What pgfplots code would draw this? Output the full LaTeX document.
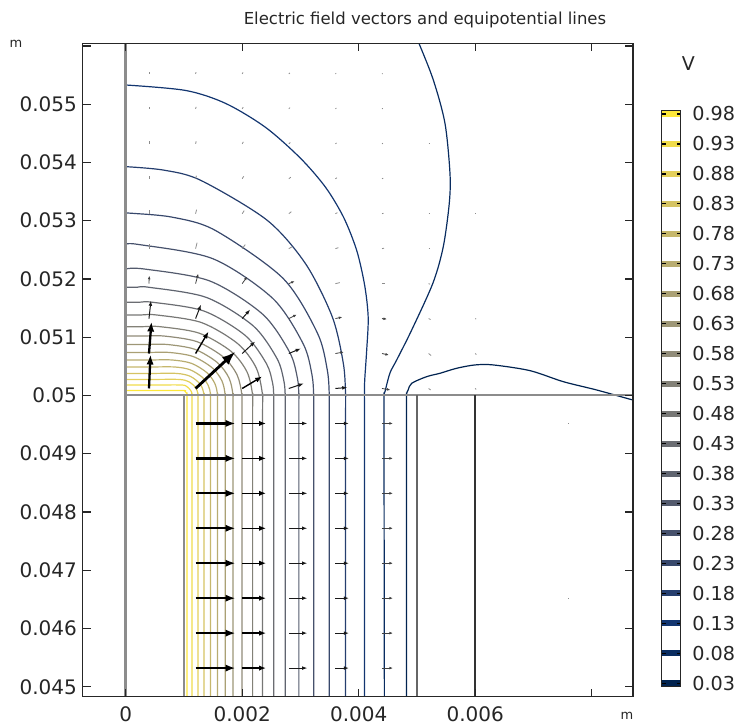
\documentclass[border=0pt]{standalone}
\usepackage{fontspec}
\setmainfont{DejaVu Sans}
\usepackage{pgfplots}
\pgfplotsset{compat=1.18}
\usetikzlibrary{arrows.meta}
\pgfplotsset{colormap={cividis}{rgb255=(0,34,78) rgb255=(18,53,112) rgb255=(59,73,108) rgb255=(87,93,109) rgb255=(112,113,115) rgb255=(138,135,121) rgb255=(166,157,117) rgb255=(196,181,108) rgb255=(228,207,91) rgb255=(254,232,56)}}
\pgfplotsset{
 cl/.style={smooth, mark=none, line width=0.6pt, color of colormap={#1 of cividis}},
 cb/.style={mark=none, line width=3pt, color of colormap={#1 of cividis}},
 geo/.style={mark=none, line width=1pt, color=black!45},
}
\begin{document}
\begin{tikzpicture}
\useasboundingbox (0,0) rectangle (368pt,363pt);
\begin{axis}[at={(41.35pt,14.65pt)}, anchor=south west, scale only axis,
 width=275.15pt, height=326.7pt,
 xmin=-0.738, xmax=8.709, ymin=44.829, ymax=56.046,
 axis on top, axis line style={line width=0.6pt, black!85},
 xtick={0,2,4,6,8}, xticklabels={0,0.002,0.004,0.006,{}},
 ytick={45,46,47,48,49,50,51,52,53,54,55,56},
 yticklabels={0.045,0.046,0.047,0.048,0.049,0.05,0.051,0.052,0.053,0.054,0.055,{}},
 tick align=inside, major tick length=4pt, tick style={line width=0.6pt, black!85},
 ticklabel style={font=\fontsize{10}{12}\selectfont, text=black!85},
 xticklabel style={yshift=-1.6pt}, yticklabel style={xshift=0.6pt},
]
% equipotential lines
\addplot[cl=994] coordinates {(0,50.086) (0.491,50.086) (0.982,50.086) (1.017,50.074) (1.043,50.043) (1.052,50.0) (1.052,49.6) (1.052,44.7)};
\addplot[cl=942] coordinates {(0,50.180) (0.476,50.180) (0.953,50.180) (1.045,50.156) (1.113,50.090) (1.138,50.0) (1.138,49.6) (1.138,44.7)};
\addplot[cl=890] coordinates {(0,50.275) (0.458,50.275) (0.917,50.275) (1.079,50.238) (1.198,50.137) (1.241,50) (1.241,49.6) (1.241,44.7)};
\addplot[cl=838] coordinates {(0,50.378) (0.440,50.378) (0.881,50.378) (1.112,50.327) (1.282,50.189) (1.344,50) (1.344,49.6) (1.344,44.7)};
\addplot[cl=786] coordinates {(0,50.489) (0.421,50.489) (0.841,50.489) (1.101,50.443) (1.312,50.315) (1.419,50.167) (1.456,50) (1.456,49.6) (1.456,44.7)};
\addplot[cl=734] coordinates {(0,50.609) (0.400,50.609) (0.800,50.609) (1.128,50.552) (1.394,50.392) (1.529,50.208) (1.576,50) (1.576,49.6) (1.576,44.7)};
\addplot[cl=682] coordinates {(0,50.738) (0.377,50.738) (0.754,50.738) (1.157,50.669) (1.485,50.475) (1.651,50.253) (1.708,50) (1.708,49.6) (1.708,44.7)};
\addplot[cl=630] coordinates {(0,50.876) (0.353,50.876) (0.706,50.876) (1.186,50.793) (1.576,50.563) (1.774,50.299) (1.842,50) (1.842,49.6) (1.842,44.7)};
\addplot[cl=578] coordinates {(0,51.021) (0.326,51.021) (0.652,51.021) (1.220,50.925) (1.681,50.657) (1.914,50.349) (1.995,50) (1.995,49.6) (1.995,44.7)};
\addplot[cl=526] coordinates {(0,51.181) (0.294,51.181) (0.589,51.181) (1.261,51.070) (1.807,50.759) (2.083,50.404) (2.179,50) (2.179,49.6) (2.179,44.7)};
\addplot[cl=474] coordinates {(0,51.382) (0.264,51.382) (0.529,51.382) (1.299,51.252) (1.924,50.889) (2.241,50.473) (2.350,50) (2.350,49.6) (2.350,44.7)};
\addplot[cl=422] coordinates {(0,51.600) (0.231,51.600) (0.462,51.600) (1.341,51.450) (2.054,51.029) (2.416,50.547) (2.520,50.222) (2.541,50) (2.541,49.6) (2.541,44.7)};
\addplot[cl=370] coordinates {(0,51.858) (0.197,51.858) (0.393,51.858) (1.385,51.683) (2.190,51.194) (2.597,50.635) (2.714,50.258) (2.738,50) (2.738,49.6) (2.738,44.7)};
\addplot[cl=318] coordinates {(0,52.172) (0.311,52.172) (1.437,51.968) (2.350,51.396) (2.814,50.743) (2.947,50.302) (2.973,50) (2.973,49.6) (2.973,44.7)};
\addplot[cl=266] coordinates {(0,52.592) (0.221,52.592) (1.493,52.349) (2.524,51.667) (3.047,50.887) (3.197,50.360) (3.227,50) (3.227,49.6) (3.227,44.7)};
\addplot[cl=214] coordinates {(0,53.128) (0.103,53.128) (0.809,53.059) (1.538,52.834) (2.701,52.011) (3.292,51.070) (3.461,50.435) (3.495,50) (3.495,49.6) (3.495,44.7)};
\addplot[cl=162] coordinates {(0,53.928) (0.656,53.868) (1.291,53.692) (2.427,53.009) (3.092,52.255) (3.549,51.343) (3.737,50.546) (3.775,50) (3.775,49.6) (3.775,44.7)};
\addplot[cl=110] coordinates {(0,55.330) (1.030,55.236) (1.717,55.013) (2.403,54.601) (3.004,54.069) (3.433,53.571) (3.742,53.056) (3.966,52.489) (4.103,51.888) (4.163,51.339) (4.137,50.773) (4.103,50.258) (4.098,50) (4.098,49.6) (4.098,44.7)};
\addplot[cl=58] coordinates {(4.795,56.618) (5.023,56.074) (5.281,55.416) (5.481,54.673) (5.567,53.815) (5.555,53.300) (5.452,52.554) (5.275,51.931) (4.910,51.124) (4.652,50.609) (4.537,50.386) (4.451,50.065) (4.434,50) (4.434,49.6) (4.441,44.7)};
\addplot[cl=6] coordinates {(4.821,44.7) (4.821,49.6) (4.821,50) (4.849,50.094) (4.910,50.209) (5.167,50.323) (5.396,50.381) (5.682,50.467) (5.996,50.524) (6.311,50.524) (6.941,50.426) (7.512,50.237) (8.086,50.094) (8.704,49.923) (9.001,49.854)};
% geometry edges
\addplot[geo, line width=1.3pt] coordinates {(0,44.7) (0,56.2)};
\addplot[geo] coordinates {(0,50) (9,50)};
\addplot[geo] coordinates {(1,44.7) (1,50)};
\addplot[mark=none, line width=0.8pt, black!60] coordinates {(5,44.7) (5,50)};
\addplot[mark=none, line width=0.8pt, black!80] coordinates {(6,44.7) (6,50)};
% electric field arrows
\addplot[quiver={u=\thisrow{u},v=\thisrow{v}}, -{Latex[length=7pt,width=5pt]}, line width=1.4pt, black] table {
x y u v
1.2 50.12 0.687 0.635
};
\addplot[quiver={u=\thisrow{u},v=\thisrow{v}}, -{Latex[length=5pt,width=3.6pt]}, line width=1.15pt, black] table {
x y u v
0.4 50.12 0.026 0.584
0.4 50.72 0.043 0.549
1.2 49.52 0.687 0
1.2 48.92 0.687 0
1.2 48.32 0.687 0
1.2 47.72 0.687 0
1.2 47.12 0.687 0
1.2 46.52 0.687 0
1.2 45.92 0.687 0
1.2 45.32 0.687 0
};
\addplot[quiver={u=\thisrow{u},v=\thisrow{v}}, -{Latex[length=3.5pt,width=2.6pt]}, line width=0.7pt, black] table {
x y u v
1.2 50.72 0.223 0.378
2.0 50.12 0.343 0.206
2.0 49.52 0.412 0
2.0 48.92 0.412 0
2.0 48.32 0.412 0
2.0 47.72 0.412 0
2.0 47.12 0.412 0
2.0 46.52 0.412 0
2.0 45.92 0.412 0
2.0 45.32 0.412 0
};
\addplot[quiver={u=\thisrow{u},v=\thisrow{v}}, -{Latex[length=2.6pt,width=1.9pt]}, line width=0.5pt, black!90] table {
x y u v
0.4 51.32 0.034 0.309
1.2 51.32 0.093 0.240
2.0 50.72 0.223 0.206
2.0 51.32 0.137 0.155
2.8 50.12 0.258 0.086
2.8 50.72 0.206 0.086
3.6 50.12 0.206 0.017
2.8 49.52 0.318 0
2.8 48.92 0.318 0
2.8 48.32 0.318 0
2.8 47.72 0.318 0
2.8 47.12 0.318 0
2.8 46.52 0.318 0
2.8 45.92 0.318 0
2.8 45.32 0.318 0
3.6 49.52 0.233 0
3.6 48.92 0.233 0
3.6 48.32 0.233 0
3.6 47.72 0.233 0
3.6 47.12 0.233 0
3.6 46.52 0.233 0
3.6 45.92 0.233 0
3.6 45.32 0.233 0
};
\addplot[quiver={u=\thisrow{u},v=\thisrow{v}}, -{Latex[length=1.8pt,width=1.4pt]}, line width=0.4pt, black!75] table {
x y u v
0.4 51.92 0.005 0.137
1.2 51.92 0.045 0.172
2.0 51.92 0.086 0.120
2.8 51.32 0.137 0.069
2.8 51.92 0.103 0.043
3.6 50.72 0.146 0.026
3.6 51.32 0.120 0.026
4.4 50.12 0.146 -0.026
4.4 50.72 0.120 -0.026
4.4 51.32 0.086 -0.009
4.4 49.52 0.189 0
4.4 48.92 0.189 0
4.4 48.32 0.189 0
4.4 47.72 0.189 0
4.4 47.12 0.189 0
4.4 46.52 0.189 0
4.4 45.92 0.189 0
4.4 45.32 0.189 0
};
\addplot[quiver={u=\thisrow{u},v=\thisrow{v}}, line width=0.4pt, black!45] table {
x y u v
0.4 52.52 0 0.086
0.4 53.12 0 0.060
0.4 53.72 0 0.050
0.4 54.32 0 0.043
0.4 54.92 0 0.034
0.4 55.52 0 0.034
1.2 52.52 0.026 0.103
1.2 53.12 0.017 0.069
1.2 53.72 0.014 0.052
1.2 54.32 0.010 0.043
1.2 54.92 0.009 0.034
1.2 55.52 0.007 0.030
2.0 52.52 0.052 0.069
2.0 53.12 0.034 0.052
2.0 53.72 0.026 0.043
2.0 54.32 0.020 0.034
2.0 54.92 0.017 0.029
2.0 55.52 0.014 0.026
2.8 52.52 0.060 0.034
2.8 53.12 0.043 0.034
2.8 53.72 0.034 0.026
2.8 54.32 0.026 0.022
2.8 54.92 0.021 0.021
2.8 55.52 0.017 0.017
3.6 51.92 0.077 0.017
3.6 52.52 0.052 0.017
3.6 53.12 0.034 0.017
3.6 53.72 0.026 0.017
3.6 54.32 0.020 0.014
3.6 54.92 0.017 0.014
3.6 55.52 0.014 0.012
4.4 51.92 0.052 0
4.4 52.52 0.034 0.009
4.4 53.12 0.026 0.009
4.4 53.72 0.020 0.009
4.4 54.32 0.017 0.009
4.4 54.92 0.014 0.009
4.4 55.52 0.012 0.007
5.2 50.12 0.034 -0.026
5.2 50.72 0.043 -0.034
5.2 51.32 0.034 -0.017
5.2 51.92 0.026 -0.009
5.2 52.52 0.020 0
5.2 53.12 0.017 0
5.2 54.32 0.014 0
6.0 50.12 0.017 -0.017
6.0 50.72 0.020 -0.017
6.0 51.32 0.017 -0.009
6.0 53.12 0.014 0
7.6 49.52 0.014 0
7.6 46.52 0.012 0
};
\end{axis}
% colour bar
\begin{axis}[at={(330.85pt,19.5pt)}, anchor=south west, scale only axis,
 width=9.5pt, height=288.15pt,
 xmin=0, xmax=1, ymin=0.0238, ymax=0.9855, xtick=\empty,
 ytick={0.03,0.08,0.13,0.18,0.23,0.28,0.33,0.38,0.43,0.48,0.53,0.58,0.63,0.68,0.73,0.78,0.83,0.88,0.93,0.98},
 yticklabels={0.03,0.08,0.13,0.18,0.23,0.28,0.33,0.38,0.43,0.48,0.53,0.58,0.63,0.68,0.73,0.78,0.83,0.88,0.93,0.98},
 ytick pos=both, yticklabel pos=right, tick align=inside, major tick length=2pt,
 axis on top, axis line style={line width=0.5pt, black!85}, tick style={line width=0.6pt, black},
 ticklabel style={font=\fontsize{9.6}{11}\selectfont, text=black!85},
 yticklabel style={xshift=2.3pt},
]
\addplot[cb=6] coordinates {(0,0.03) (1,0.03)};
\addplot[cb=58] coordinates {(0,0.08) (1,0.08)};
\addplot[cb=110] coordinates {(0,0.13) (1,0.13)};
\addplot[cb=162] coordinates {(0,0.18) (1,0.18)};
\addplot[cb=214] coordinates {(0,0.23) (1,0.23)};
\addplot[cb=266] coordinates {(0,0.28) (1,0.28)};
\addplot[cb=318] coordinates {(0,0.33) (1,0.33)};
\addplot[cb=370] coordinates {(0,0.38) (1,0.38)};
\addplot[cb=422] coordinates {(0,0.43) (1,0.43)};
\addplot[cb=474] coordinates {(0,0.48) (1,0.48)};
\addplot[cb=526] coordinates {(0,0.53) (1,0.53)};
\addplot[cb=578] coordinates {(0,0.58) (1,0.58)};
\addplot[cb=630] coordinates {(0,0.63) (1,0.63)};
\addplot[cb=682] coordinates {(0,0.68) (1,0.68)};
\addplot[cb=734] coordinates {(0,0.73) (1,0.73)};
\addplot[cb=786] coordinates {(0,0.78) (1,0.78)};
\addplot[cb=838] coordinates {(0,0.83) (1,0.83)};
\addplot[cb=890] coordinates {(0,0.88) (1,0.88)};
\addplot[cb=942] coordinates {(0,0.93) (1,0.93)};
\addplot[cb=994] coordinates {(0,0.98) (1,0.98)};
\end{axis}
\node[font=\fontsize{8.25}{10}\selectfont, text=black!85] at (212.5pt,353pt) {Electric field vectors and equipotential lines};
\node[font=\fontsize{6.5}{8}\selectfont, text=black!85] at (8pt,341pt) {m};
\node[font=\fontsize{6.5}{8}\selectfont, text=black!85] at (313.5pt,5pt) {m};
\node[font=\fontsize{9.5}{11}\selectfont, text=black!85] at (344.15pt,331.35pt) {V};
\end{tikzpicture}
\end{document}
